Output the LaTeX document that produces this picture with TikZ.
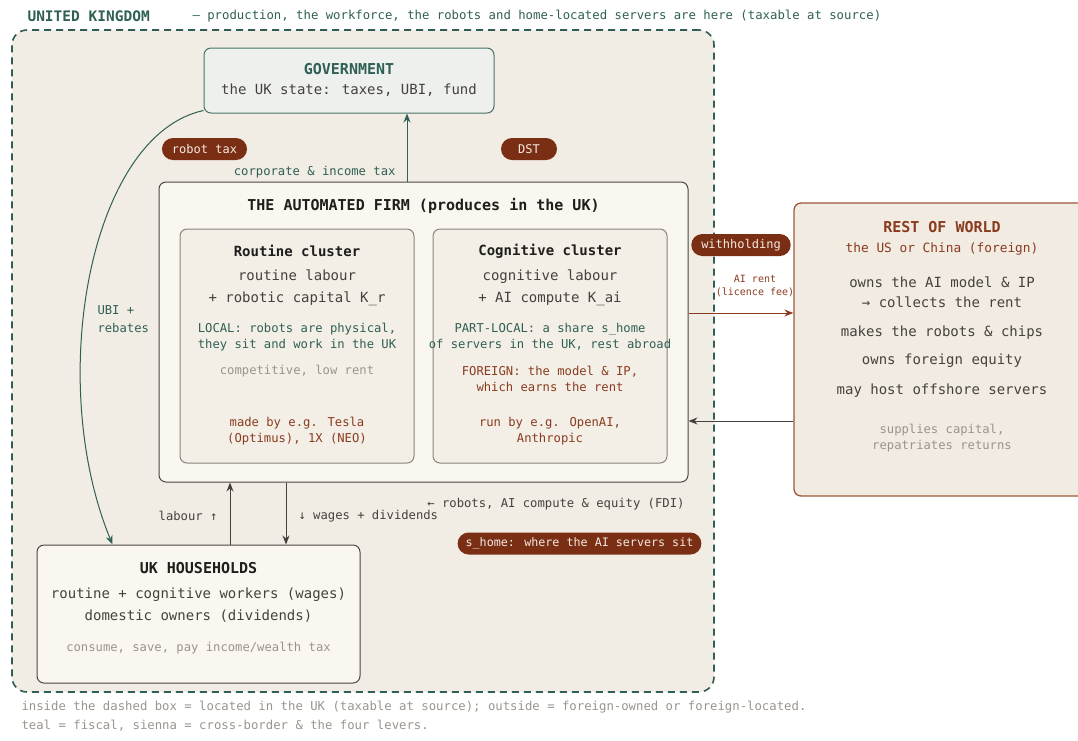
\documentclass[tikz,border=0pt]{standalone}
\usepackage{fontspec}
\setmainfont{DejaVu Sans Mono}
\usetikzlibrary{arrows.meta}
\definecolor{ukfill}{HTML}{F1ECE4}
\definecolor{ukline}{HTML}{2F5E54}
\definecolor{fiscal}{HTML}{2F5F55}
\definecolor{govfill}{HTML}{EDF0EC}
\definecolor{govline}{HTML}{4A7468}
\definecolor{firmfill}{HTML}{FAF7F1}
\definecolor{firmline}{HTML}{4A4744}
\definecolor{clusterfill}{HTML}{F3EFE6}
\definecolor{clusterline}{HTML}{8C837A}
\definecolor{sienna}{HTML}{7A2E14}
\definecolor{pilltext}{HTML}{F5EAE2}
\definecolor{siennatext}{HTML}{8A3B1F}
\definecolor{rowfill}{HTML}{F1EBE2}
\definecolor{rowline}{HTML}{A0553A}
\definecolor{ink}{HTML}{1F1E1C}
\definecolor{bodytext}{HTML}{45413C}
\definecolor{note}{HTML}{9A948D}

\begin{document}
\begin{tikzpicture}[x=1pt, y=-1pt,
	box/.style={draw, rounded corners=7pt, line width=1pt},
	pill/.style={fill=sienna, text=pilltext, rounded corners=11pt, minimum height=22pt, inner xsep=10pt, font=\fontsize{12}{14}\selectfont},
	ttl/.style={font=\fontsize{15}{18}\selectfont\bfseries, text=ink},
	sub/.style={font=\fontsize{14}{17}\selectfont\bfseries, text=ink},
	txt/.style={font=\fontsize{14}{22}\selectfont, text=bodytext, align=center},
	sml/.style={font=\fontsize{12.2}{16}\selectfont, align=center},
	tip/.style={-{Stealth[length=9pt,width=7pt]}, line width=1pt}]
	\useasboundingbox (0,0) rectangle (1078,740);

	% the UK
	\node[draw=ukline, fill=ukfill, dash pattern=on 7pt off 5pt, line width=1.6pt, rounded corners=15pt, minimum width=702pt, minimum height=662pt] (uk) at (363,361) {};
	\node[anchor=west, font=\fontsize{14.5}{17}\selectfont\bfseries, text=fiscal] (ukhead) at (24,16) {UNITED KINGDOM};
	\node[anchor=west, font=\fontsize{12.3}{15}\selectfont, text=fiscal] (ukdesc) at (189,16) {— production, the workforce, the robots and home-located servers are here (taxable at source)};

	% government
	\node[box, draw=govline, fill=govfill, minimum width=290pt, minimum height=65pt] (gov) at (349,80.5) {};
	\node[ttl, text=fiscal] (govtitle) at (349,69.5) {GOVERNMENT};
	\node[txt] (govtext) at (349,90) {the UK state: taxes, UBI, fund};

	% the firm
	\node[box, draw=firmline, fill=firmfill, minimum width=529pt, minimum height=300pt] (firm) at (423.5,332) {};
	\node[ttl] (firmtitle) at (423.5,206) {THE AUTOMATED FIRM (produces in the UK)};

	\node[box, draw=clusterline, fill=clusterfill, minimum width=234pt, minimum height=234pt] (routine) at (297,346) {};
	\node[sub] (routinetitle) at (297,251) {Routine cluster};
	\node[txt] (routinetext) at (297,288) {routine labour\\+ robotic capital K\_r};
	\node[sml, text=fiscal] (routinelocal) at (297,337) {LOCAL: robots are physical,\\they sit and work in the UK};
	\node[sml, text=note] (routinerent) at (297,371) {competitive, low rent};
	\node[sml, text=siennatext] (routinemaker) at (297,431) {made by e.g. Tesla\\(Optimus), 1X (NEO)};

	\node[box, draw=clusterline, fill=clusterfill, minimum width=234pt, minimum height=234pt] (cognitive) at (550,346) {};
	\node[sub] (cognitivetitle) at (550,251) {Cognitive cluster};
	\node[txt] (cognitivetext) at (550,288) {cognitive labour\\+ AI compute K\_ai};
	\node[sml, text=fiscal] (cognitivelocal) at (550,337) {PART-LOCAL: a share s\_home\\of servers in the UK, rest abroad};
	\node[sml, text=siennatext] (cognitiveforeign) at (550,379) {FOREIGN: the model \& IP,\\which earns the rent};
	\node[sml, text=siennatext] (cognitivemaker) at (550,431) {run by e.g. OpenAI,\\Anthropic};

	% households
	\node[box, draw=firmline, fill=firmfill, minimum width=323pt, minimum height=138pt] (hh) at (198.5,614) {};
	\node[ttl] (hhtitle) at (198.5,568) {UK HOUSEHOLDS};
	\node[txt] (hhtext) at (198.5,605) {routine + cognitive workers (wages)\\domestic owners (dividends)};
	\node[sml, text=note] (hhnote) at (198.5,648) {consume, save, pay income/wealth tax};

	% rest of world
	\node[box, draw=rowline, fill=rowfill, line width=1.3pt, minimum width=296pt, minimum height=293pt] (row) at (942,349.5) {};
	\node[ttl, text=siennatext] (rowtitle) at (942,227) {REST OF WORLD};
	\node[font=\fontsize{12.8}{15}\selectfont, text=siennatext] (rowsub) at (942,249) {the US or China (foreign)};
	\node[txt, font=\fontsize{14}{20}\selectfont] (rowip) at (942,292) {owns the AI model \& IP\\→ collects the rent};
	\node[txt] (rowchips) at (942,333) {makes the robots \& chips};
	\node[txt] (rowequity) at (942,361) {owns foreign equity};
	\node[txt] (rowservers) at (942,391) {may host offshore servers};
	\node[sml, text=note] (rownote) at (942,438) {supplies capital,\\repatriates returns};

	% flows
	\draw[tip, fiscal] ([xshift=-16.5pt]firm.north) -- ([xshift=58pt]gov.south);
	\node[anchor=east, sml, text=fiscal] (taxlabel) at (399,172) {corporate \& income tax};
	\draw[tip, fiscal] ([yshift=3pt]gov.south west) .. controls (90,135) and (45,380) .. ([xshift=76pt]hh.north west);
	\node[anchor=west, sml, align=left, font=\fontsize{12.2}{18}\selectfont, text=fiscal] (ubilabel) at (94,319) {UBI +\\rebates};

	\draw[tip, bodytext] ([xshift=31.5pt]hh.north) -- ([xshift=-193.5pt]firm.south);
	\node[anchor=east, sml, text=bodytext] (labourlabel) at (221,516) {labour ↑};
	\draw[tip, bodytext] ([xshift=-137.5pt]firm.south) -- ([xshift=87.5pt]hh.north);
	\node[anchor=west, sml, text=bodytext] (wagelabel) at (295,516) {↓ wages + dividends};
	\node[anchor=east, sml, text=bodytext] (fdilabel) at (688,504) {← robots, AI compute \& equity (FDI)};

	\draw[tip, siennatext] ([yshift=19pt]firm.east) -- ([yshift=36.5pt]row.west);
	\node[font=\fontsize{10}{13}\selectfont, text=siennatext, align=center] (rentlabel) at (755,286) {AI rent\\(licence fee)};
	\draw[tip, bodytext] ([yshift=-71.5pt]row.west) -- ([yshift=-89pt]firm.east);

	% the four levers
	\node[pill] (robottax) at (204.5,149) {robot tax};
	\node[pill, minimum width=56pt] (dst) at (529,149) {DST};
	\node[pill] (withholding) at (741,245) {withholding};
	\node[pill, font=\fontsize{11.7}{14}\selectfont, inner xsep=8pt] (shome) at (579.5,543.5) {s\_home: where the AI servers sit};

	% notes
	\node[anchor=west, font=\fontsize{12.3}{15}\selectfont, text=note] (note1) at (18,707) {inside the dashed box = located in the UK (taxable at source); outside = foreign-owned or foreign-located.};
	\node[anchor=west, font=\fontsize{12.3}{15}\selectfont, text=note] (note2) at (18,726) {teal = fiscal, sienna = cross-border \& the four levers.};
\end{tikzpicture}
\end{document}
